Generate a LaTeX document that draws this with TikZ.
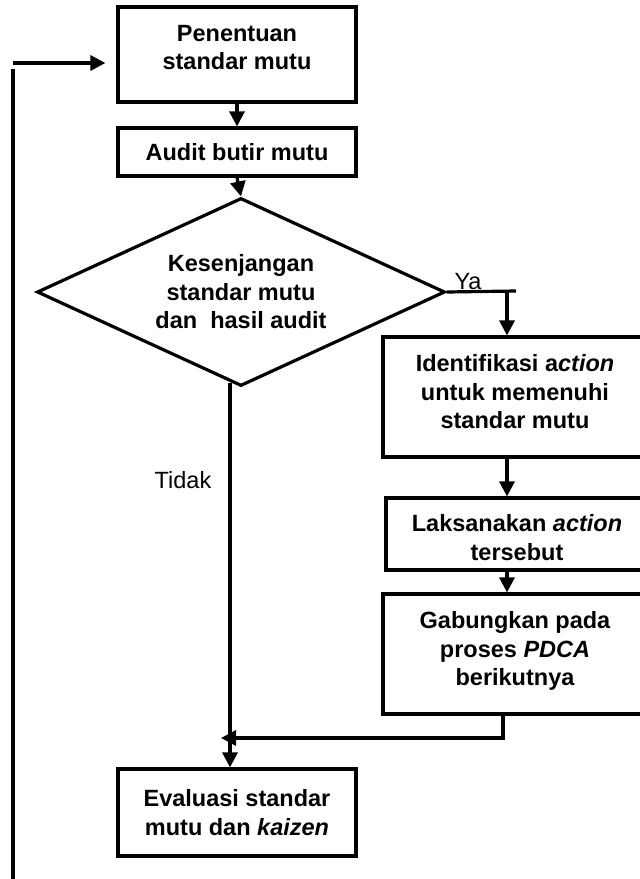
\documentclass[tikz,border=0pt]{standalone}
\usepackage{fontspec}
\setmainfont{Liberation Sans}
\usetikzlibrary{shapes.geometric,arrows.meta}
\begin{document}
\begin{tikzpicture}[x=0.5pt,y=-0.5pt,
    box/.style={draw, line width=1.6pt, align=center, inner sep=0pt,
      font=\bfseries\fontsize{11.75}{14.25}\selectfont},
    wire/.style={line width=1.6pt},
    arr/.style={line width=1.6pt, -{Triangle[length=7.5pt,width=7.5pt]}},
    lbl/.style={font=\fontsize{11.75}{14.25}\selectfont, inner sep=0pt}]
    \clip (0,0) rectangle (640,879);
    % Main column
    \node[box, minimum width=119pt, minimum height=47.5pt] (std) at (237,54.5) {Penentuan\\standar mutu\\[-7pt]\mbox{}};
    \node[box, minimum width=119pt, minimum height=24pt] (audit) at (237,152) {Audit butir mutu};
    \node[box, diamond, aspect=2.17, minimum width=204pt, minimum height=94pt] (gap) at (241,292)
      {Kesenjangan\\standar mutu\\dan~ hasil audit};
    \node[box, minimum width=119pt, minimum height=43.5pt] (eval) at (237,812.5)
      {Evaluasi standar\\mutu dan \textit{kaizen}};
    % Right column (runs past the page edge)
    \node[box, minimum width=132pt, minimum height=60pt] (act) at (515,397)
      {Identifikasi a\textit{ction}\\untuk memenuhi\\standar mutu\\[-9pt]\mbox{}};
    \node[box, minimum width=131pt, minimum height=36pt] (do) at (517,534)
      {\mbox{}\\[-2pt]Laksanakan \textit{action}\\tersebut};
    \node[box, minimum width=132pt, minimum height=60pt] (merge) at (515,654)
      {Gabungkan pada\\proses \textit{PDCA}\\berikutnya\\[-9pt]\mbox{}};
    % Straight arrows
    \draw[arr] (std.south) -- (audit.north);
    \draw[arr] (audit.south) -- (gap.north);
    \draw[arr] ([xshift=-4pt]act.south) -- ([xshift=-4pt]act.south |- do.north);
    \draw[arr] ([xshift=-4pt]act.south |- do.south) -- ([xshift=-4pt]act.south |- merge.north);
    % Ya branch
    \coordinate (yaend) at (516,291);
    \draw[wire] (gap.east) -- (yaend);
    \node[lbl, anchor=base] (ya) at (468,289) {Ya};
    \draw[arr] ([xshift=-4pt]act.north |- yaend) -- ([xshift=-4pt]act.north);
    % Tidak branch
    \draw[arr] ([xshift=-5.5pt,yshift=2.5pt]gap.south) -- ([xshift=-5.5pt]gap.south |- eval.north);
    \node[lbl] (tidak) at (183,480) {Tidak};
    \coordinate (meet) at (221,738);
    \draw[arr] ([xshift=-6pt]merge.south) |- (meet);
    % Feedback line on the left
    \coordinate (loopbot) at (13,885);
    \coordinate (looptop) at (13,69);
    \coordinate (loopin) at (13,63);
    \draw[wire] (loopbot) -- (looptop);
    \draw[arr] (loopin) -- ([xshift=-5.5pt]std.west |- loopin);
\end{tikzpicture}
\end{document}
